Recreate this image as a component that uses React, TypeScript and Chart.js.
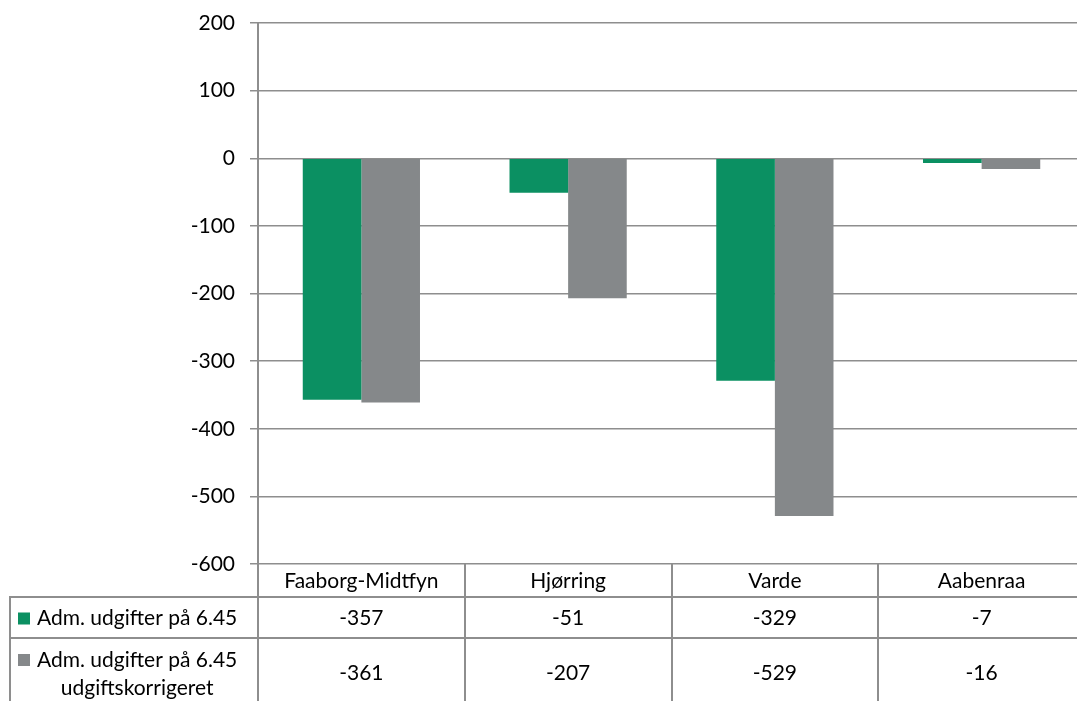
import React, { useEffect, useRef } from "react";
import { Chart, registerables } from "chart.js";

Chart.register(...registerables);

const categories = ["Faaborg-Midtfyn", "Hjørring", "Varde", "Aabenraa"];
const seriesNames = ["Adm. udgifter på 6.45", "Adm. udgifter på 6.45 udgiftskorrigeret"];
const seriesLabelLines = [["Adm. udgifter på 6.45"], ["Adm. udgifter på 6.45", "udgiftskorrigeret"]];
const admValues = [-357, -51, -329, -7];
const korrValues = [-361, -207, -529, -16];
const yMin = -600;
const yMax = 200;
const yStep = 100;

const GREEN = "#0b9062";
const GREY = "#85888a";
const LINE = "#8e8e8e";
const FONT = "Lato, 'Liberation Sans', sans-serif";
const FS = 21;
const CW = 1085;

const tablePlugin = {
  id: "dataTable",
  afterDraw(chart: any) {
    const ctx = chart.ctx as CanvasRenderingContext2D;
    const xs = chart.scales.x;
    const { left, right, bottom } = chart.chartArea;
    const H = chart.height;
    const colW = xs.getPixelForValue(1) - xs.getPixelForValue(0);
    const headerBottom = bottom + 33;
    const row1Bottom = headerBottom + 41;
    const tableLeft = 10;
    ctx.save();
    ctx.strokeStyle = LINE;
    ctx.lineWidth = 2;
    ctx.beginPath();
    ctx.moveTo(left, bottom);
    ctx.lineTo(left, H);
    for (let i = 1; i < categories.length; i++) {
      const x = Math.round(xs.getPixelForValue(i) - colW / 2);
      ctx.moveTo(x, bottom);
      ctx.lineTo(x, H);
    }
    ctx.moveTo(tableLeft, headerBottom);
    ctx.lineTo(tableLeft, H);
    ctx.moveTo(tableLeft - 1, headerBottom);
    ctx.lineTo(right, headerBottom);
    ctx.moveTo(tableLeft - 1, row1Bottom);
    ctx.lineTo(right, row1Bottom);
    ctx.stroke();

    ctx.fillStyle = "#000";
    ctx.font = `${FS}px ${FONT}`;
    ctx.textAlign = "center";
    ctx.textBaseline = "middle";
    const values = [admValues, korrValues];
    const rowCenters = [(headerBottom + row1Bottom) / 2, row1Bottom + 34];
    categories.forEach((c, i) => {
      const cx = xs.getPixelForValue(i);
      ctx.fillText(c, cx, (bottom + headerBottom) / 2 + 1);
      values.forEach((vals, r) => {
        ctx.fillText(String(vals[i]), cx, rowCenters[r] + 1);
      });
    });

    const colors = [GREEN, GREY];
    const swX = 18;
    const textX = 37;
    seriesLabelLines.forEach((lines, r) => {
      const firstY = r === 0 ? rowCenters[0] + 1 : row1Bottom + 22;
      ctx.fillStyle = colors[r];
      ctx.fillRect(swX, firstY - 6, 12, 12);
      ctx.fillStyle = "#000";
      ctx.textAlign = "left";
      ctx.fillText(lines[0], textX, firstY);
      const w = ctx.measureText(lines[0]).width;
      for (let k = 1; k < lines.length; k++) {
        ctx.textAlign = "center";
        ctx.fillText(lines[k], textX + w / 2, firstY + 28 * k);
      }
    });
    ctx.restore();
  },
};

export default function App() {
  const ref = useRef<HTMLCanvasElement>(null);
  useEffect(() => {
    const chart = new Chart(ref.current!, {
      type: "bar",
      data: {
        labels: categories,
        datasets: [
          { label: seriesNames[0], data: admValues, backgroundColor: GREEN, barPercentage: 1, categoryPercentage: 0.567 },
          { label: seriesNames[1], data: korrValues, backgroundColor: GREY, barPercentage: 1, categoryPercentage: 0.567 },
        ],
      },
      options: {
        animation: false,
        responsive: false,
        maintainAspectRatio: false,
        layout: { padding: { left: 0, top: 23, right: 0, bottom: 137 } },
        plugins: { legend: { display: false }, tooltip: { enabled: false } },
        scales: {
          x: { display: false, grid: { display: false } },
          y: {
            min: yMin,
            max: yMax,
            afterFit(scale: any) {
              scale.width = 258;
              scale.paddingTop = 0;
              scale.paddingBottom = 0;
            },
            ticks: {
              stepSize: yStep,
              color: "#000",
              padding: 15,
              font: { family: FONT, size: FS },
            },
            grid: { color: LINE, lineWidth: 1.5, tickLength: 8 },
            border: { display: true, color: LINE, width: 2 },
          },
        },
      },
      plugins: [tablePlugin],
    });
    return () => chart.destroy();
  }, []);
  return (
    <div style={{ position: "fixed", left: 0, top: 0, width: 1077, height: 701, background: "#fff", overflow: "hidden" }}>
      <canvas ref={ref} width={CW} height={701} style={{ width: CW, height: 701 }} />
    </div>
  );
}
